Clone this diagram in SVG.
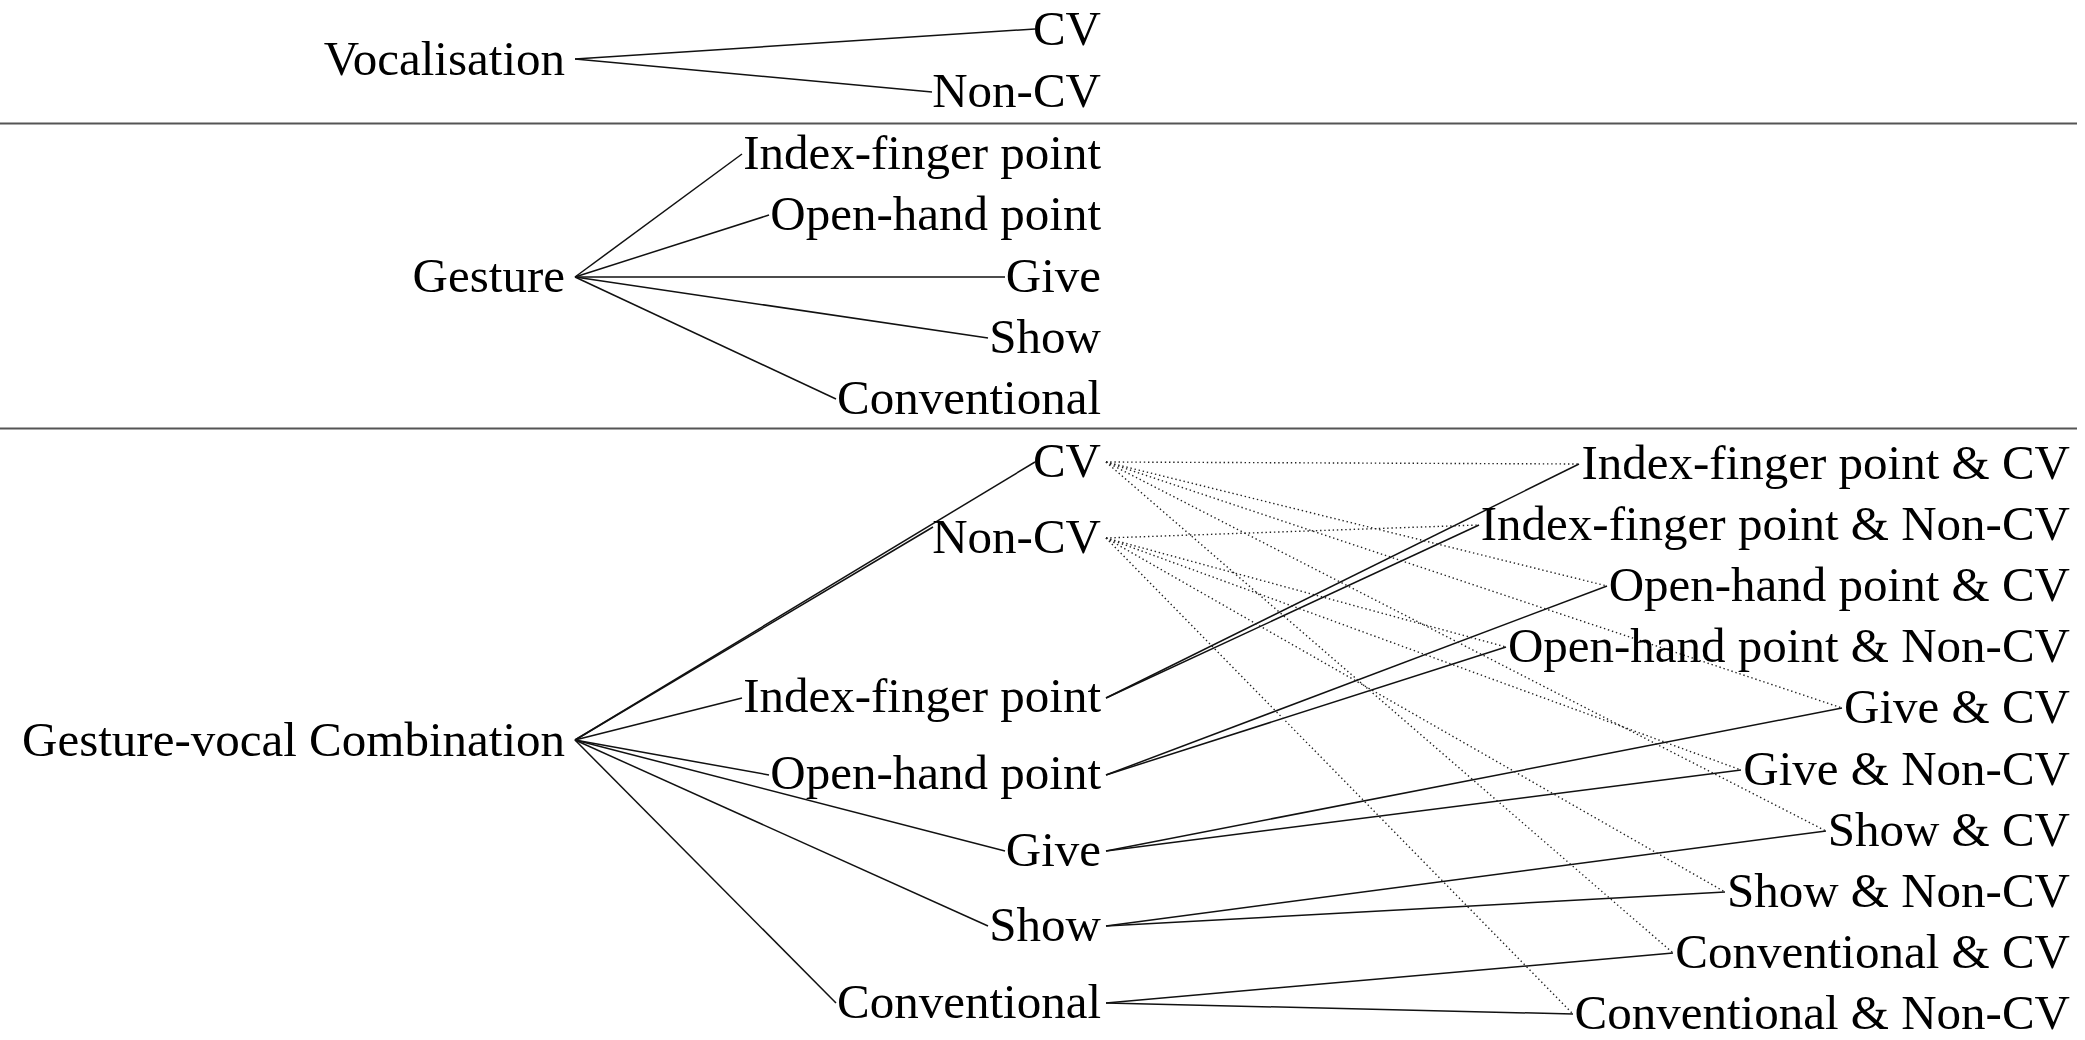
<svg xmlns="http://www.w3.org/2000/svg" width="2085" height="1040" viewBox="0 0 2085 1040">
  <style>
    text { font-family: "Liberation Serif", "Times New Roman", serif; font-size: 49px; fill: #000; text-anchor: end; }
    .edge { stroke: #111; stroke-width: 1.5; fill: none; }
    .dot { stroke: #222; stroke-width: 1.4; stroke-dasharray: 1.4 2.8; fill: none; }
    .rule { stroke: #555; stroke-width: 2; }
  </style>
  <rect width="2085" height="1040" fill="#fff"/>

  <!-- section rules -->
  <g id="rules">
    <line class="rule" x1="0" y1="123.5" x2="2077" y2="123.5"/>
    <line class="rule" x1="0" y1="428.5" x2="2077" y2="428.5"/>
  </g>

  <g id="connectors">
    <!-- Vocalisation -->
    <line class="edge" x1="575" y1="59" x2="1035" y2="29"/>
    <line class="edge" x1="575" y1="59" x2="932" y2="92"/>
    <!-- Gesture -->
    <line class="edge" x1="575" y1="277" x2="742" y2="154"/>
    <line class="edge" x1="575" y1="277" x2="769" y2="215"/>
    <line class="edge" x1="575" y1="277" x2="1005" y2="277"/>
    <line class="edge" x1="575" y1="277" x2="988" y2="338"/>
    <line class="edge" x1="575" y1="277" x2="836" y2="399"/>
    <!-- Gesture-vocal Combination -->
    <line class="edge" x1="575" y1="740" x2="1035" y2="462"/>
    <line class="edge" x1="575" y1="740" x2="933" y2="527"/>
    <line class="edge" x1="575" y1="740" x2="742" y2="698"/>
    <line class="edge" x1="575" y1="740" x2="769" y2="775"/>
    <line class="edge" x1="575" y1="740" x2="1005" y2="851"/>
    <line class="edge" x1="575" y1="740" x2="988" y2="926"/>
    <line class="edge" x1="575" y1="740" x2="836" y2="1003"/>
    <!-- gesture to combination -->
    <line class="edge" x1="1106" y1="698" x2="1579" y2="464"/>
    <line class="edge" x1="1106" y1="698" x2="1479" y2="525"/>
    <line class="edge" x1="1106" y1="775" x2="1607" y2="586"/>
    <line class="edge" x1="1106" y1="775" x2="1506" y2="647"/>
    <line class="edge" x1="1106" y1="851" x2="1842" y2="708"/>
    <line class="edge" x1="1106" y1="851" x2="1741" y2="770"/>
    <line class="edge" x1="1106" y1="926" x2="1826" y2="831"/>
    <line class="edge" x1="1106" y1="926" x2="1725" y2="892"/>
    <line class="edge" x1="1106" y1="1003" x2="1673" y2="953"/>
    <line class="edge" x1="1106" y1="1003" x2="1573" y2="1014"/>
    <!-- vocal to combination -->
    <line class="dot" x1="1106" y1="462" x2="1579" y2="464"/>
    <line class="dot" x1="1106" y1="462" x2="1607" y2="586"/>
    <line class="dot" x1="1106" y1="462" x2="1842" y2="708"/>
    <line class="dot" x1="1106" y1="462" x2="1826" y2="831"/>
    <line class="dot" x1="1106" y1="462" x2="1673" y2="953"/>
    <line class="dot" x1="1106" y1="538" x2="1479" y2="525"/>
    <line class="dot" x1="1106" y1="538" x2="1506" y2="647"/>
    <line class="dot" x1="1106" y1="538" x2="1741" y2="770"/>
    <line class="dot" x1="1106" y1="538" x2="1725" y2="892"/>
    <line class="dot" x1="1106" y1="538" x2="1573" y2="1014"/>
  </g>

  <!-- Vocalisation tree -->
  <g id="vocalisation"><text x="565" y="75">Vocalisation</text></g>
  <g id="voc-cv"><text x="1101" y="45">CV</text></g>
  <g id="voc-noncv"><text x="1101" y="107">Non-CV</text></g>

  <!-- Gesture tree -->
  <g id="gesture"><text x="565" y="292">Gesture</text></g>
  <g id="ges-index"><text x="1101" y="169">Index-finger point</text></g>
  <g id="ges-open"><text x="1101" y="230">Open-hand point</text></g>
  <g id="ges-give"><text x="1101" y="292">Give</text></g>
  <g id="ges-show"><text x="1101" y="353">Show</text></g>
  <g id="ges-conv"><text x="1101" y="414">Conventional</text></g>

  <!-- Gesture-vocal Combination tree -->
  <g id="combination"><text x="565" y="756">Gesture-vocal Combination</text></g>
  <g id="comb-cv"><text x="1101" y="477">CV</text></g>
  <g id="comb-noncv"><text x="1101" y="553">Non-CV</text></g>
  <g id="comb-index"><text x="1101" y="712">Index-finger point</text></g>
  <g id="comb-open"><text x="1101" y="789">Open-hand point</text></g>
  <g id="comb-give"><text x="1101" y="866">Give</text></g>
  <g id="comb-show"><text x="1101" y="941">Show</text></g>
  <g id="comb-conv"><text x="1101" y="1018">Conventional</text></g>

  <g id="index-cv"><text x="2070" y="479">Index-finger point &amp; CV</text></g>
  <g id="index-noncv"><text x="2070" y="540">Index-finger point &amp; Non-CV</text></g>
  <g id="open-cv"><text x="2070" y="601">Open-hand point &amp; CV</text></g>
  <g id="open-noncv"><text x="2070" y="662">Open-hand point &amp; Non-CV</text></g>
  <g id="give-cv"><text x="2070" y="723">Give &amp; CV</text></g>
  <g id="give-noncv"><text x="2070" y="785">Give &amp; Non-CV</text></g>
  <g id="show-cv"><text x="2070" y="846">Show &amp; CV</text></g>
  <g id="show-noncv"><text x="2070" y="907">Show &amp; Non-CV</text></g>
  <g id="conv-cv"><text x="2070" y="968">Conventional &amp; CV</text></g>
  <g id="conv-noncv"><text x="2070" y="1029">Conventional &amp; Non-CV</text></g>
</svg>
